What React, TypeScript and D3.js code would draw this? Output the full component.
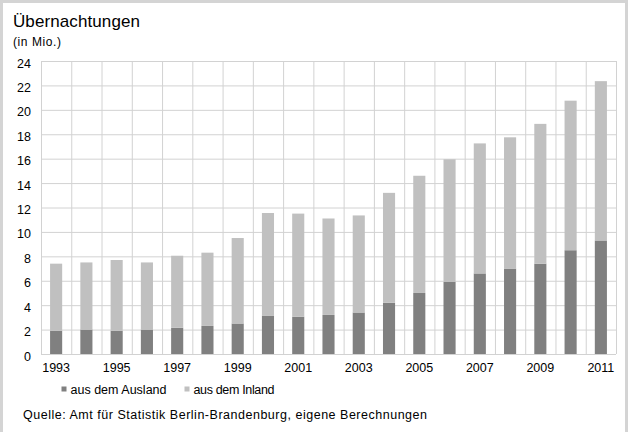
import React from 'react';
import * as d3 from 'd3';

// Overnight stays in Berlin, million
const years = [1993, 1994, 1995, 1996, 1997, 1998, 1999, 2000, 2001, 2002, 2003, 2004, 2005, 2006, 2007, 2008, 2009, 2010, 2011];
const ausland = [1.9, 2.0, 1.9, 2.0, 2.15, 2.3, 2.5, 3.15, 3.05, 3.2, 3.4, 4.2, 5.0, 5.9, 6.6, 7.0, 7.4, 8.5, 9.3];
const inland = [5.5, 5.5, 5.8, 5.5, 5.9, 6.0, 7.0, 8.4, 8.45, 7.9, 7.95, 9.0, 9.6, 10.05, 10.65, 10.75, 11.45, 12.25, 13.05];
const yTicks = [0, 2, 4, 6, 8, 10, 12, 14, 16, 18, 20, 22, 24];
const seriesNames = ['aus dem Ausland', 'aus dem Inland'];
const seriesColors = ['#808080', '#c0c0c0'];

const W = 628;
const H = 432;
const FONT = '"Liberation Sans", Arial, Helvetica, sans-serif';

export default function App() {
  const left = 41;
  const right = 616;
  const top = 61;
  const bottom = 354;

  const x = d3.scaleBand<number>().domain(years).range([left, right]).paddingInner(0.6).paddingOuter(0.3);
  const grid = d3.scaleBand<number>().domain(years).range([left, right]).padding(0);
  const y = d3.scaleLinear().domain([0, 24]).range([bottom, top]);

  const rows = years.map((yr, i) => ({ year: yr, ausland: ausland[i], inland: inland[i] }));
  const stacked = d3.stack<any>().keys(['ausland', 'inland'])(rows);

  // legend geometry (x of swatch, width of label)
  const legendX = [61.5, 184.5];
  const legendLen = [96, 81];

  return (
    <svg width={W} height={H} style={{ position: 'absolute', left: 0, top: 0, background: '#fff' }} fontFamily={FONT}>
      <rect x={1.5} y={1.5} width={625} height={H + 10} fill="#fff" stroke="#d4d4d4" strokeWidth={3} />

      <text x={13} y={27} fontSize={17} fill="#000" textLength={127} lengthAdjust="spacing">Übernachtungen</text>
      <text x={13} y={45.5} fontSize={12} fill="#000" textLength={48} lengthAdjust="spacing">(in Mio.)</text>

      {/* gridlines */}
      {yTicks.map(t => (
        <line key={'h' + t} x1={left} x2={right} y1={y(t) + 0.5} y2={y(t) + 0.5} stroke="#d2d2d2" strokeWidth={1} />
      ))}
      {years.map(yr => (
        <line key={'v' + yr} x1={grid(yr)! + 0.5} x2={grid(yr)! + 0.5} y1={top} y2={bottom} stroke="#d2d2d2" strokeWidth={1} />
      ))}
      <line x1={right + 0.5} x2={right + 0.5} y1={top} y2={bottom} stroke="#d2d2d2" strokeWidth={1} />

      {/* bars */}
      {stacked.map((s, si) => (
        <g key={s.key} fill={seriesColors[si]}>
          {s.map((d, i) => (
            <rect key={i} x={x(years[i])} y={y(d[1])} width={x.bandwidth()} height={y(d[0]) - y(d[1])} />
          ))}
        </g>
      ))}

      {/* y axis labels */}
      {yTicks.map(t => (
        <text key={'yl' + t} x={31} y={y(t) + 6.5} fontSize={12.5} textAnchor="end" fill="#000">{t}</text>
      ))}

      {/* x axis labels */}
      {years.filter(yr => yr % 2 === 1).map(yr => (
        <text key={'xl' + yr} x={x(yr)! + x.bandwidth() / 2} y={372} fontSize={12.5} textAnchor="middle" fill="#000">{yr}</text>
      ))}

      {/* legend */}
      {seriesNames.map((n, i) => (
        <g key={n} transform={`translate(${legendX[i]},0)`}>
          <rect x={0} y={386.5} width={5} height={5} fill={seriesColors[i]} />
          <text x={9} y={393.5} fontSize={12.5} fill="#000" textLength={legendLen[i]} lengthAdjust="spacing">{n}</text>
        </g>
      ))}

      <text x={23} y={418.5} fontSize={12.5} fill="#000" textLength={404} lengthAdjust="spacing">
        Quelle: Amt für Statistik Berlin-Brandenburg, eigene Berechnungen
      </text>
    </svg>
  );
}
